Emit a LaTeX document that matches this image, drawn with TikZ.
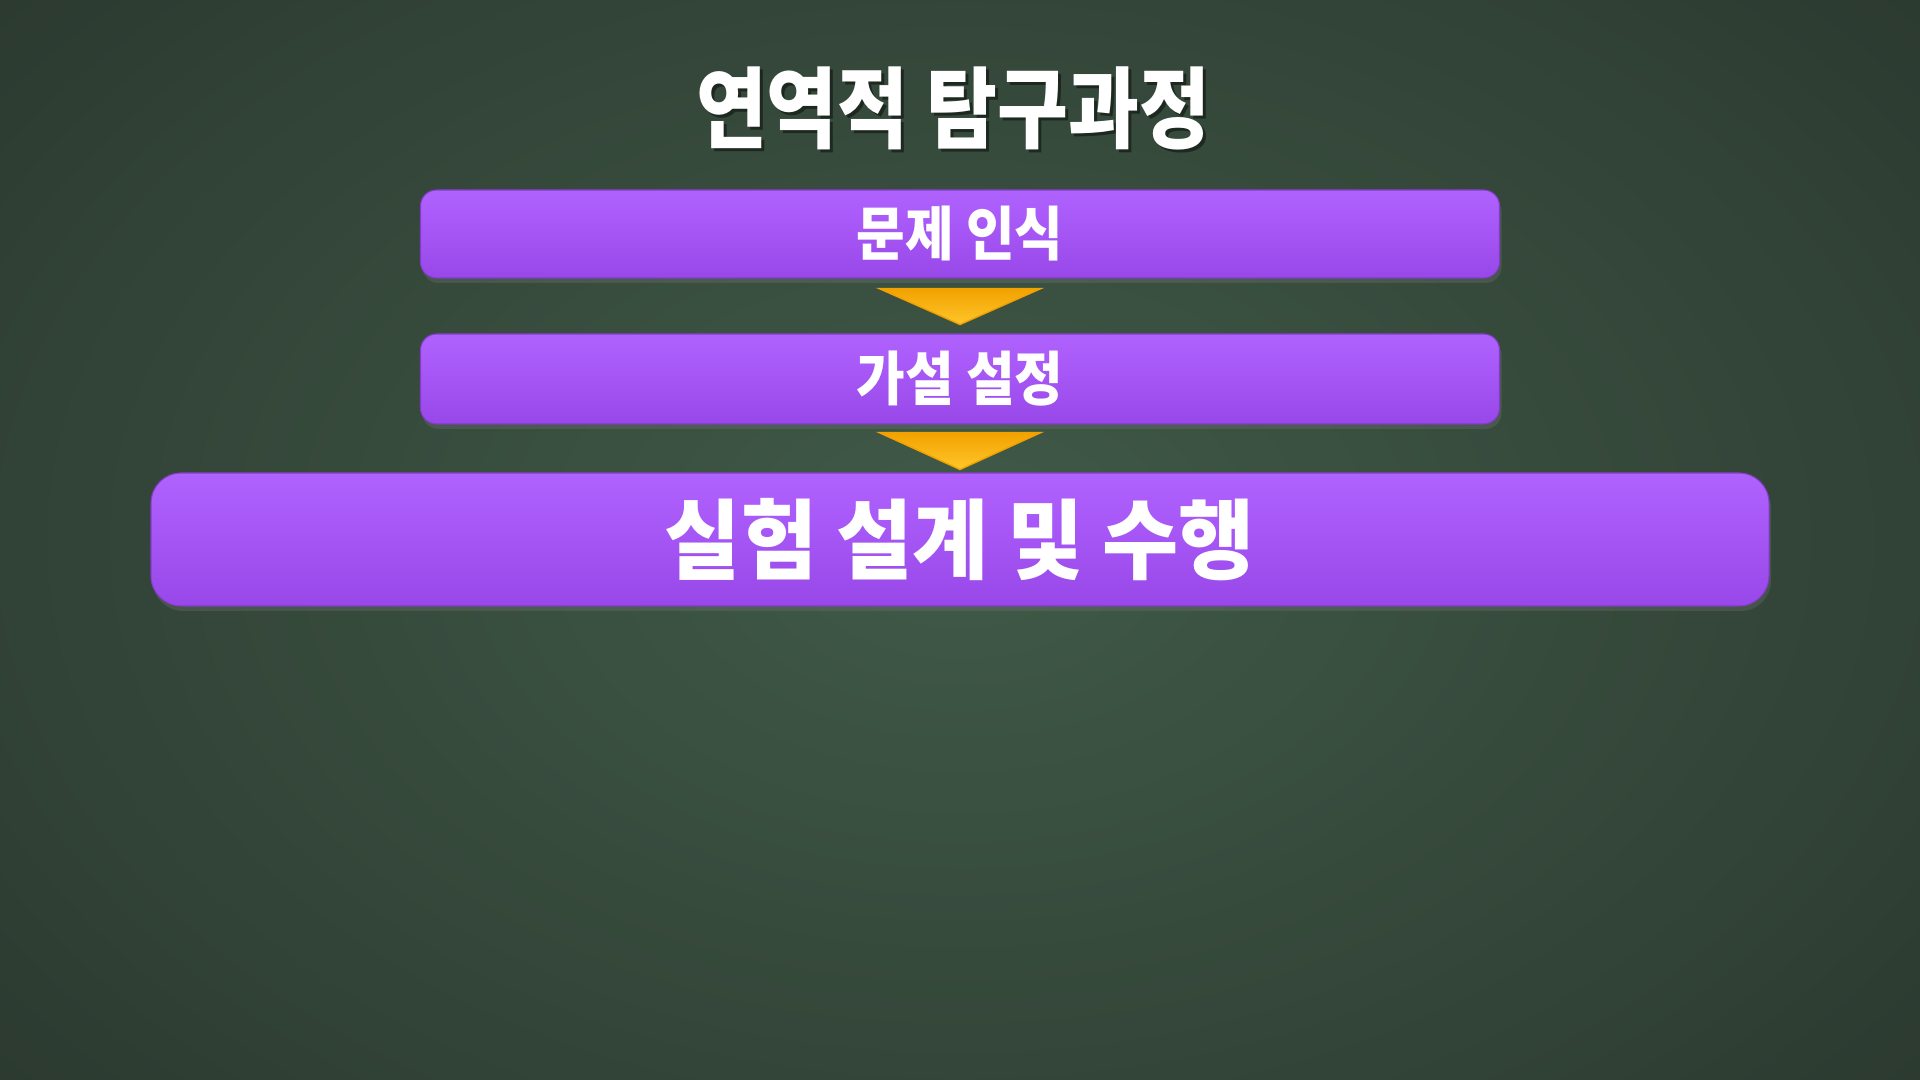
\documentclass[tikz,border=0pt]{standalone}
\usepackage{fontspec}
\newfontfamily\kor[FakeStretch=0.9]{Noto Sans CJK KR}
\newfontfamily\korwide[FakeStretch=0.95]{Noto Sans CJK KR}
\newfontfamily\kortitle[FakeStretch=0.87]{Noto Sans CJK KR}
\usetikzlibrary{calc,shadows}
\definecolor{bglight}{HTML}{405A48}
\definecolor{bgdark}{HTML}{2C3A30}
\definecolor{boxtop}{HTML}{B062FF}
\definecolor{boxbot}{HTML}{9848E8}
\definecolor{arrtop}{HTML}{F2A200}
\definecolor{arrbot}{HTML}{FFC62A}
\tikzset{
  stepbox/.style={rounded corners=0.16cm,top color=boxtop,bottom color=boxbot,
    draw=boxbot!85!black,line width=0.3pt,text=white,font=\kor\bfseries\fontsize{16.7}{18}\selectfont,
    drop shadow={opacity=0.25,shadow xshift=0.02,shadow yshift=-0.05}},
  arrfill/.style={top color=arrtop,bottom color=arrbot,draw=arrtop,line width=0.4pt}
}
\begin{document}
\begin{tikzpicture}
            \useasboundingbox (0,0) rectangle (19.2,10.8);
            \shade[inner color=bglight,outer color=bgdark] (-3,-3) rectangle (22.2,13.8);
            % title
            \node (tshadow) at (9.56,9.69) [text=black,opacity=0.45,font=\kortitle\bfseries\fontsize{25.2}{28}\selectfont] {연역적 탐구과정};
            \node (title) at (9.53,9.72) [text=white,font=\kortitle\bfseries\fontsize{25.2}{28}\selectfont] {연역적 탐구과정};
            % steps
            \node (p1) at (9.60,8.46) [stepbox,minimum width=10.79cm,minimum height=0.88cm] {문제 인식};
            \node (p2) at (9.60,7.01) [stepbox,minimum width=10.79cm,minimum height=0.90cm] {가설 설정};
            \node (p3) at (9.60,5.405) [stepbox,rounded corners=0.3cm,minimum width=16.18cm,minimum height=1.33cm,font=\korwide\bfseries\fontsize{24.8}{26}\selectfont] {실험 설계 및 수행};
            % arrows
            \fill[arrfill] ($(p1.south)+(-0.81,-0.10)$) -- ++(1.62,0) -- ($(p1.south)+(0,-0.46)$) -- cycle;
            \fill[arrfill] ($(p2.south)+(-0.81,-0.08)$) -- ++(1.62,0) -- ($(p2.south)+(0,-0.45)$) -- cycle;
\end{tikzpicture}
\end{document}
